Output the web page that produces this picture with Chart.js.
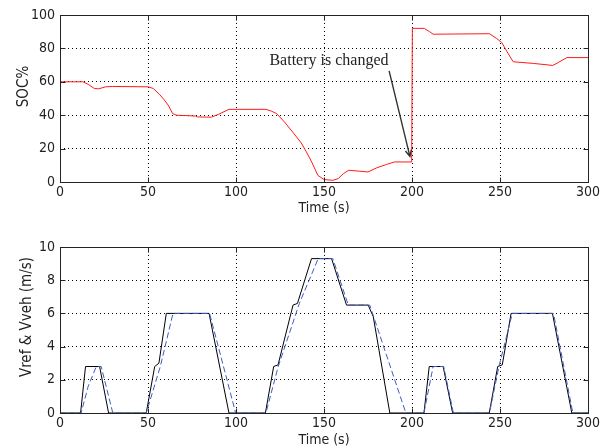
<!DOCTYPE html>
<html>
<head>
<meta charset="utf-8">
<script src="https://cdn.jsdelivr.net/npm/chart.js@4.4.1/dist/chart.umd.min.js"></script>
<style>
  html, body { margin: 0; padding: 0; background: #fff; }
  body { width: 610px; height: 448px; overflow: hidden; position: relative; }
  canvas { position: absolute; left: 0; }
  #socChart { top: 0; }
  #speedChart { top: 224px; }
</style>
</head>
<body>
<canvas id="socChart" width="610" height="224"></canvas>
<canvas id="speedChart" width="610" height="230"></canvas>
<script>
// battery state of charge over the drive cycle
const socTime = [0, 13, 16, 19.5, 22, 26, 30, 50, 53, 56.5, 59, 61.5, 64, 66, 77, 78, 86, 90, 96,
  117, 120, 123, 127.5, 132.5, 137, 140, 143, 146.5, 150, 155, 158, 161, 164, 170, 175, 180,
  185.5, 190, 199.8, 200.2, 207, 210, 212, 244, 248, 251, 254, 257.5, 269, 280, 283, 288, 300];
const socValue = [60, 60, 58.5, 56, 55.8, 57, 57.2, 57, 56, 52.5, 49.5, 46, 41, 40, 39.5, 39, 38.8, 40.5, 43.5,
  43.5, 42.5, 41, 36, 29.5, 23.5, 18, 12, 4, 1.5, 1, 2, 5, 7, 6.5, 6, 8.5,
  10.5, 12, 12, 92, 92, 90, 88.5, 88.8, 86, 83.5, 78, 72, 71, 69.8, 71.5, 74.5, 74.5];

// reference speed (solid) and vehicle speed (dashed)
const vrefTime = [0, 11.7, 14.5, 22.5, 27.6, 49, 53.8, 56.2, 60.4, 84.7, 96, 116.7, 121.4, 123.9, 132.4,
  134.9, 142.9, 154.3, 162.8, 175.1, 178, 187.4, 206.8, 209.8, 217.7, 223.1, 243.9, 248.7, 251.3,
  256.3, 279.8, 290.8, 300];
const vrefValue = [0, 0, 2.8, 2.8, 0, 0, 2.8, 3.0, 6, 6, 0, 0, 2.8, 2.9, 6.5,
  6.6, 9.3, 9.3, 6.5, 6.5, 5.8, 0, 0, 2.8, 2.8, 0, 0, 2.8, 2.9,
  6, 6, 0, 0];
const vvehTime = [0, 12, 16, 20.6, 23.4, 30, 49, 57, 64.2, 85, 99.8, 117, 124, 136, 146.7, 155, 163.8,
  176, 196.5, 206.8, 212, 218, 223.5, 244, 249.4, 257, 280.4, 291.4, 300];
const vvehValue = [0, 0, 1.6, 2.8, 2.8, 0, 0, 2.8, 6, 6, 0, 0, 2.8, 6.6, 9.3, 9.3, 6.5,
  6.5, 0, 0, 2.8, 2.8, 0, 0, 2.8, 6, 6, 0, 0];

const timeTicks = [0, 50, 100, 150, 200, 250, 300];

const pairs = (xs, ys) => xs.map((x, i) => ({ x: x, y: ys[i] }));

Chart.defaults.font.family = "'Liberation Sans Narrow', 'DejaVu Sans Condensed', 'Liberation Sans', Arial, sans-serif";
Chart.defaults.font.size = 14;
Chart.defaults.color = '#222';

// matlab style axes box with inward ticks and a rotated y label
const axesBox = {
  id: 'axesBox',
  afterDraw(chart, args, opts) {
    const { ctx, chartArea: a, scales: { x, y } } = chart;
    const l = Math.round(a.left) + 0.5, r = Math.round(a.right) + 0.5;
    const t = Math.round(a.top) + 0.5, b = Math.round(a.bottom) + 0.5;
    ctx.save();
    ctx.strokeStyle = '#222';
    ctx.lineWidth = 1;
    ctx.setLineDash([]);
    ctx.strokeRect(l, t, r - l, b - t);
    ctx.beginPath();
    x.ticks.forEach(tk => {
      const px = Math.round(x.getPixelForValue(tk.value)) + 0.5;
      ctx.moveTo(px, b); ctx.lineTo(px, b - 5);
      ctx.moveTo(px, t); ctx.lineTo(px, t + 5);
    });
    y.ticks.forEach(tk => {
      const py = Math.round(y.getPixelForValue(tk.value)) + 0.5;
      ctx.moveTo(l, py); ctx.lineTo(l + 5, py);
      ctx.moveTo(r, py); ctx.lineTo(r - 5, py);
    });
    ctx.stroke();

    if (opts.text) {
      ctx.translate(opts.x, (a.top + a.bottom) / 2 + opts.dy);
      ctx.rotate(-Math.PI / 2);
      ctx.font = opts.size + 'px ' + Chart.defaults.font.family;
      ctx.fillStyle = '#222';
      ctx.textAlign = 'center';
      ctx.textBaseline = 'middle';
      ctx.fillText(opts.text, 0, 0);
    }
    ctx.restore();
  }
};

// text note with an arrow pointing at the battery swap
const batteryNote = {
  id: 'batteryNote',
  afterDraw(chart, args, opts) {
    const { ctx, scales: { x, y } } = chart;
    ctx.save();
    ctx.font = '16px "Liberation Serif", "Times New Roman", serif';
    ctx.fillStyle = '#222';
    ctx.textBaseline = 'alphabetic';
    ctx.fillText(opts.text, x.getPixelForValue(opts.at[0]), y.getPixelForValue(opts.at[1]));

    const x0 = x.getPixelForValue(opts.from[0]), y0 = y.getPixelForValue(opts.from[1]);
    const x1 = x.getPixelForValue(opts.to[0]), y1 = y.getPixelForValue(opts.to[1]);
    ctx.strokeStyle = '#333';
    ctx.lineWidth = 1.4;
    ctx.beginPath();
    ctx.moveTo(x0, y0);
    ctx.lineTo(x1, y1);
    const ang = Math.atan2(y1 - y0, x1 - x0);
    ctx.moveTo(x1 - 7 * Math.cos(ang - 0.45), y1 - 7 * Math.sin(ang - 0.45));
    ctx.lineTo(x1, y1);
    ctx.lineTo(x1 - 7 * Math.cos(ang + 0.45), y1 - 7 * Math.sin(ang + 0.45));
    ctx.stroke();
    ctx.restore();
  }
};

function timeAxis(height, titlePad) {
  return {
    type: 'linear',
    min: 0,
    max: 300,
    afterBuildTicks: s => { s.ticks = timeTicks.map(v => ({ value: v })); },
    afterFit: s => { s.height = height; },
    grid: { color: '#000', drawTicks: false },
    border: { display: false, dash: [1, 3] },
    ticks: { padding: 2, maxRotation: 0, font: { size: 14 } },
    title: { display: true, text: 'Time (s)', font: { size: 14 }, padding: { top: 0, bottom: titlePad } }
  };
}

function valueAxis(max, step) {
  return {
    min: 0,
    max: max,
    afterFit: s => { s.width = 60; },
    grid: { color: '#000', drawTicks: false },
    border: { display: false, dash: [1, 3] },
    ticks: { stepSize: step, padding: 5, font: { size: 14 } }
  };
}

const socChart = new Chart(document.getElementById('socChart'), {
  type: 'line',
  data: {
    datasets: [{
      label: 'SOC%',
      data: pairs(socTime, socValue),
      borderColor: '#ff1a1a',
      borderWidth: 1,
      pointRadius: 0,
      tension: 0
    }]
  },
  options: {
    responsive: false,
    animation: false,
    layout: { padding: { top: 15, right: 22, left: 0, bottom: 0 } },
    scales: {
      x: timeAxis(42, 7),
      y: valueAxis(100, 20)
    },
    plugins: {
      legend: { display: false },
      tooltip: { enabled: false },
      axesBox: { text: 'SOC%', x: 24, dy: -12, size: 15 },
      batteryNote: { text: 'Battery is changed', at: [119, 70], from: [187, 66.5], to: [198.8, 15.3] }
    }
  },
  plugins: [axesBox, batteryNote]
});

const speedChart = new Chart(document.getElementById('speedChart'), {
  type: 'line',
  data: {
    datasets: [
      {
        label: 'Vveh',
        data: pairs(vvehTime, vvehValue),
        borderColor: '#3a5cc8',
        borderWidth: 1,
        borderDash: [6, 3],
        pointRadius: 0,
        tension: 0
      },
      {
        label: 'Vref',
        data: pairs(vrefTime, vrefValue),
        borderColor: '#000',
        borderWidth: 1,
        pointRadius: 0,
        tension: 0
      }
    ]
  },
  options: {
    responsive: false,
    animation: false,
    layout: { padding: { top: 23, right: 22, left: 0, bottom: 0 } },
    scales: {
      x: timeAxis(41, 5),
      y: valueAxis(10, 2)
    },
    plugins: {
      legend: { display: false },
      tooltip: { enabled: false },
      axesBox: { text: 'Vref & Vveh (m/s)', x: 27, dy: -13, size: 15 }
    }
  },
  plugins: [axesBox]
});
</script>
</body>
</html>
